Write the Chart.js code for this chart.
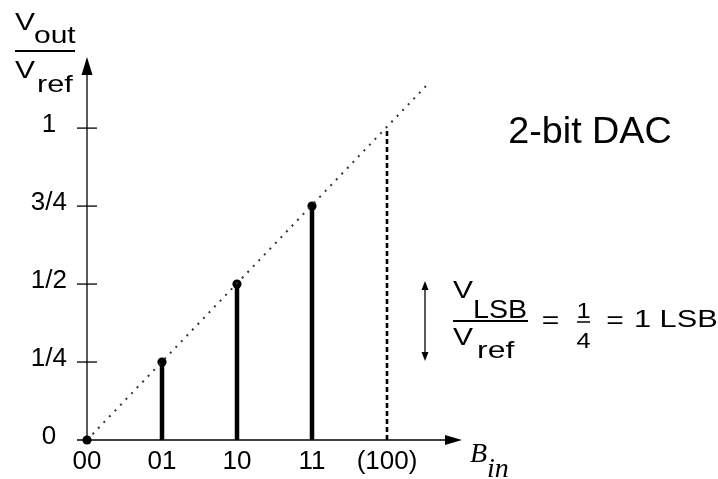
<!DOCTYPE html>
<html><head><meta charset="utf-8">
<script src="https://cdn.jsdelivr.net/npm/chart.js@4/dist/chart.umd.min.js"></script>
<style>html,body{margin:0;padding:0;background:#fff;}#wrap{width:718px;height:479px;}</style>
</head><body><div id="wrap"><canvas id="c" width="718" height="479"></canvas></div>
<script>
// ---- data ----
const codePositions = [0, 1, 2, 3];
const outputValues = [0, 0.25, 0.5, 0.75];
const xTickVals = [0, 1, 2, 3, 4];
const xTickLabels = ["00", "01", "10", "11", "(100)"];
const yTickVals = [0, 0.25, 0.5, 0.75, 1];
const yTickLabels = ["0", "1/4", "1/2", "3/4", "1"];
const fullScaleCode = [4, 4];
const fullScaleValue = [0, 1];
const idealX = [0, 4.52];
const idealY = [0, 1.135];

const SANS = "'Liberation Sans', Arial, sans-serif";
const SERIF = "'Liberation Serif', 'Times New Roman', serif";

const pts = (xs, ys) => xs.map((x, i) => ({x: x, y: ys[i]}));

const datasets = [];
datasets.push({data: pts(idealX, idealY), showLine: true, borderColor: '#333', borderWidth: 2,
  borderDash: [2, 6], pointRadius: 0, clip: false});
datasets.push({data: pts(fullScaleCode, fullScaleValue), showLine: true, borderColor: '#000', borderWidth: 2.6,
  borderDash: [5, 3], pointRadius: 0, clip: false});
codePositions.forEach((c, i) => {
  if (outputValues[i] > 0) {
    datasets.push({data: pts([c, c], [0, outputValues[i]]), showLine: true, borderColor: '#000',
      borderWidth: 4.5, pointRadius: 0, clip: false});
  }
});
datasets.push({data: pts(codePositions, outputValues), showLine: false, pointRadius: 4.6,
  pointBackgroundColor: '#000', pointBorderColor: '#000', pointBorderWidth: 0, clip: false});

function txt(ctx, s, x, y, size, align, sx, font) {
  ctx.save();
  ctx.translate(x, y); ctx.scale(sx, 1);
  ctx.textAlign = align; ctx.textBaseline = 'alphabetic';
  ctx.font = (font || (size + 'px ' + SANS));
  ctx.fillText(s, 0, 0);
  ctx.restore();
}

const deco = {
  id: 'deco',
  afterDraw(chart) {
    const ctx = chart.ctx, xs = chart.scales.x, ys = chart.scales.y, ca = chart.chartArea;
    const x0 = xs.getPixelForValue(0), y0 = ys.getPixelForValue(0);
    ctx.save();
    ctx.strokeStyle = '#000'; ctx.fillStyle = '#000'; ctx.lineWidth = 1.3;
    // x axis
    ctx.beginPath(); ctx.moveTo(x0 - 10, y0); ctx.lineTo(ca.right - 10, y0); ctx.stroke();
    ctx.beginPath(); ctx.moveTo(ca.right, y0); ctx.lineTo(ca.right - 17, y0 - 5); ctx.lineTo(ca.right - 17, y0 + 5); ctx.closePath(); ctx.fill();
    // y axis
    ctx.beginPath(); ctx.moveTo(x0, y0); ctx.lineTo(x0, ca.top + 10); ctx.stroke();
    ctx.beginPath(); ctx.moveTo(x0, ca.top); ctx.lineTo(x0 - 5.5, ca.top + 18); ctx.lineTo(x0 + 5.5, ca.top + 18); ctx.closePath(); ctx.fill();
    // y tick marks crossing axis
    yTickVals.forEach(v => { if (v > 0) { const p = ys.getPixelForValue(v);
      ctx.beginPath(); ctx.moveTo(x0 - 10, p); ctx.lineTo(x0 + 10, p); ctx.stroke(); } });

    // axis title top-left
    txt(ctx, 'V', 15, 30, 24, 'left', 1.25);
    txt(ctx, 'out', 34, 43, 24, 'left', 1.25);
    ctx.lineWidth = 2; ctx.beginPath(); ctx.moveTo(15, 51); ctx.lineTo(75, 51); ctx.stroke();
    txt(ctx, 'V', 15, 78, 24, 'left', 1.25);
    txt(ctx, 'ref', 37, 92, 24, 'left', 1.28);

    // B_in
    txt(ctx, 'B', 470, 462, 28, 'left', 1, 'italic 28px ' + SERIF);
    txt(ctx, 'in', 487, 477, 28, 'left', 1, 'italic 28px ' + SERIF);

    // 2-bit DAC
    txt(ctx, '2-bit DAC', 590, 143, 37, 'center', 1.02);

    // LSB annotation
    ctx.lineWidth = 1.3;
    ctx.beginPath(); ctx.moveTo(425, 288); ctx.lineTo(425, 354); ctx.stroke();
    ctx.beginPath(); ctx.moveTo(425, 281); ctx.lineTo(421.5, 290); ctx.lineTo(428.5, 290); ctx.closePath(); ctx.fill();
    ctx.beginPath(); ctx.moveTo(425, 361); ctx.lineTo(421.5, 352); ctx.lineTo(428.5, 352); ctx.closePath(); ctx.fill();
    txt(ctx, 'V', 453, 298, 24, 'left', 1.25);
    txt(ctx, 'LSB', 473, 318, 26, 'left', 1.1);
    ctx.lineWidth = 2; ctx.beginPath(); ctx.moveTo(453, 321); ctx.lineTo(528, 321); ctx.stroke();
    txt(ctx, 'V', 453, 345, 24, 'left', 1.25);
    txt(ctx, 'ref', 477, 358, 24, 'left', 1.33);
    txt(ctx, '=', 550.5, 328, 24, 'center', 1.25);
    txt(ctx, '1', 583.5, 318, 22, 'center', 1.15);
    txt(ctx, '4', 583.5, 348, 22, 'center', 1.15);
    ctx.lineWidth = 1.5; ctx.beginPath(); ctx.moveTo(577, 322); ctx.lineTo(590, 322); ctx.stroke();
    txt(ctx, '=', 615, 328, 24, 'center', 1.25);
    txt(ctx, '1 LSB', 634, 327, 24, 'left', 1.28);
    ctx.restore();
  }
};

new Chart(document.getElementById('c'), {
  type: 'scatter',
  data: {datasets: datasets},
  options: {
    responsive: false, animation: false, devicePixelRatio: 1,
    layout: {padding: {top: 57, right: 256, left: 0, bottom: 0}},
    plugins: {legend: {display: false}, tooltip: {enabled: false}},
    scales: {
      x: {type: 'linear', min: 0, max: 5,
        afterBuildTicks: s => { s.ticks = xTickVals.map(v => ({value: v})); },
        afterFit: s => { s.height = 39; },
        grid: {display: false, drawTicks: false}, border: {display: false},
        ticks: {autoSkip: false, maxRotation: 0, color: '#000', padding: 6,
          font: {family: SANS, size: 26},
          callback: (v, i) => xTickLabels[i]}},
      y: {type: 'linear', min: 0, max: 1.228,
        afterBuildTicks: s => { s.ticks = yTickVals.map(v => ({value: v})); },
        afterFit: s => { s.width = 87; },
        grid: {display: false, drawTicks: false}, border: {display: false},
        ticks: {autoSkip: false, color: '#000', padding: 20, crossAlign: 'center', labelOffset: -3,
          font: {family: SANS, size: 26},
          callback: (v, i) => yTickLabels[i]}}
    }
  },
  plugins: [deco]
});
</script></body></html>
